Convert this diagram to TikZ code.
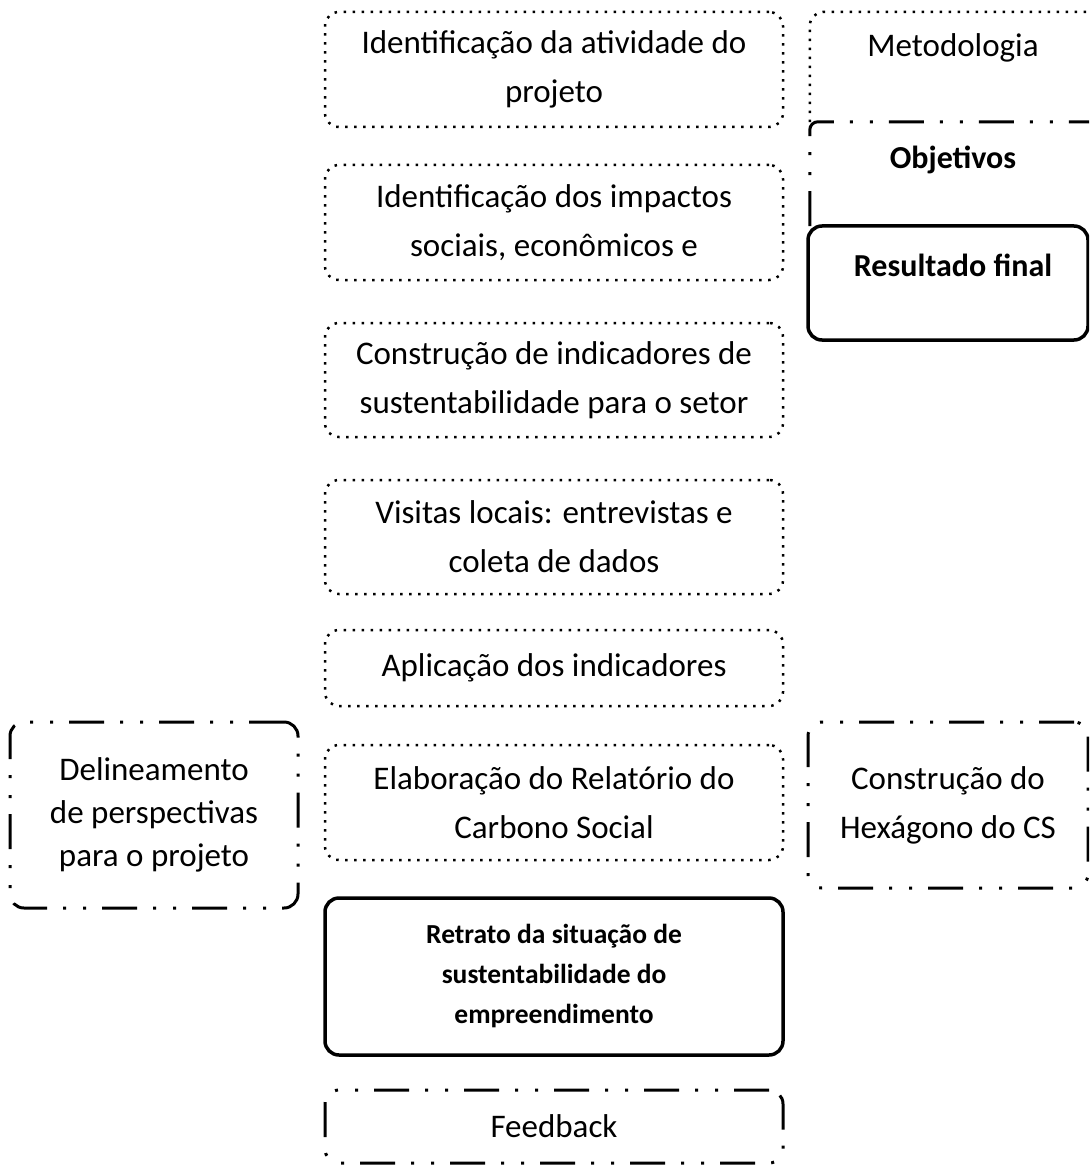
\documentclass[tikz,border=0pt]{standalone}
\usepackage{fontspec}
\setmainfont{Carlito}
\begin{document}
\begin{tikzpicture}[x=1pt,y=-1pt,
  base/.style={rounded corners=14pt, align=center, inner sep=0pt, font=\fontsize{33}{49}\selectfont},
  dotline/.style={line width=2.5pt, dash pattern=on 2.5pt off 6.5pt},
  ddline/.style={line width=3pt, dash pattern=on 35pt off 16pt on 3pt off 17pt on 3pt off 16pt},
  dotbox/.style={base, draw, dotline},
  ddbox/.style={base, draw, ddline},
  solidbox/.style={base, draw, line width=3.5pt},
  mainbox/.style={minimum width=458pt},
  rightbox/.style={base, minimum width=280pt},
  lbl/.style={font=\fontsize{33}{49}\selectfont},
  blbl/.style={font=\fontsize{32}{49}\selectfont\bfseries}
]
\useasboundingbox (0,0) rectangle (1089,1166);
\clip (0,0) rectangle (1089,1166);
% main column
\node[dotbox, mainbox, minimum height=115pt] (n1) at (554,69.5) {Identificação da atividade do\\projeto};
\node[dotbox, mainbox, minimum height=115pt] (n2) at (554,222.5) {Identificação dos impactos\\sociais, econômicos e};
\node[dotbox, mainbox, minimum height=114pt] (n3) at (554,380) {Construção de indicadores de\\sustentabilidade para o setor};
\node[dotbox, mainbox, minimum height=114pt] (n4) at (554,537) {Visitas locais: entrevistas e\\coleta de dados};
\node[dotbox, mainbox, minimum height=76pt] (n5) at (554,668) {Aplicação dos indicadores};
\node[dotbox, mainbox, minimum height=115pt] (n6) at (554,802.5) {Elaboração do Relatório do\\Carbono Social};
\node[solidbox, mainbox, minimum height=157pt, font=\fontsize{27.5}{40}\selectfont\bfseries] (n7) at (554,976.5) {Retrato da situação de\\sustentabilidade do\\empreendimento};
\node[ddbox, mainbox, minimum height=73pt] (n8) at (554,1126.5) {Feedback};
% left box
\node[ddbox, minimum width=288pt, minimum height=186pt, font=\fontsize{33}{43}\selectfont] (l1) at (154,815) {Delineamento\\de perspectivas\\para o projeto};
% right column (legend)
\node[rightbox, minimum height=110pt] (m1) at (950,67) {};
\draw[dotline, rounded corners=14pt] (m1.south west) -- (m1.north west) -- (m1.north east);
\node[lbl] (m1t) at (953,48) {Metodologia};
\node[rightbox, minimum height=104pt] (m2) at (950,174) {};
\draw[ddline, rounded corners=8pt] (m2.south west) -- (m2.north west) -- (m2.north east);
\node[blbl] (m2t) at (953,160) {Objetivos};
\node[rightbox, solidbox, minimum height=114pt] (m3) at (948,283) {};
\node[blbl] (m3t) at (953,265) {Resultado final};
\node[ddbox, minimum width=280pt, minimum height=166pt] (r1) at (948,805) {Construção do\\Hexágono do CS};
\end{tikzpicture}
\end{document}
